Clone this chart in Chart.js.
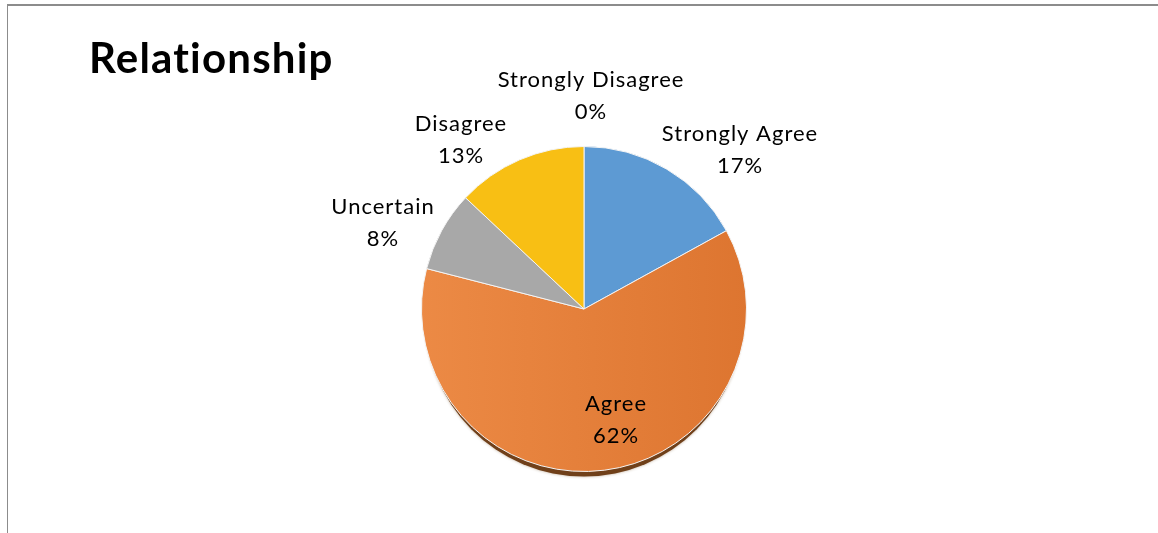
<!DOCTYPE html>
<html>
<head>
<meta charset="utf-8">
<script src="https://cdn.jsdelivr.net/npm/chart.js@4.4.1/dist/chart.umd.min.js"></script>
<style>
  html, body { margin: 0; padding: 0; background: #fff; }
  #wrap { position: relative; width: 1158px; height: 533px; overflow: hidden; }
  #frame { position: absolute; left: 7px; top: 4px; width: 1160px; height: 540px;
           border-left: 1px solid #8c8c8c; border-top: 2px solid #8c8c8c; box-sizing: border-box; }
  canvas { position: absolute; left: 0; top: 0; }
</style>
</head>
<body>
<div id="wrap">
  <div id="frame"></div>
  <canvas id="myChart" width="1158" height="533"></canvas>
</div>
<script>
// chart data
const chartTitle = 'Relationship';
const categories = ['Strongly Agree', 'Agree', 'Uncertain', 'Disagree', 'Strongly Disagree'];
const percents = [17, 62, 8, 13, 0];

// slice colours (Office palette)
const sliceColors = ['#5d9ad3', 'orange-gradient', '#a8a8a8', '#f8bf14', '#3f70b8'];

// label baseline of first line, relative to pie centre, in px
const labelOffsets = [
  [156, -168],
  [32, -0 + 102],
  [-201, -95],
  [-123, -178],
  [7, -222]
];

const FONT = 'Lato, "Open Sans", sans-serif';

// a soft brown shadow under the pie + the title and data labels
const piePlugin = {
  id: 'piePlugin',
  beforeDatasetsDraw(chart) {
    const arc = chart.getDatasetMeta(0).data[0];
    if (!arc) return;
    const ctx = chart.ctx;
    ctx.save();
    ctx.beginPath();
    ctx.ellipse(arc.x, arc.y + 6, arc.outerRadius - 3, arc.outerRadius - 1, 0, 0, Math.PI * 2);
    ctx.fillStyle = '#70401a';
    ctx.shadowColor = 'rgba(110,70,30,0.45)';
    ctx.shadowBlur = 3;
    ctx.fill();
    ctx.restore();
  },
  afterDraw(chart) {
    const ctx = chart.ctx;
    const arcs = chart.getDatasetMeta(0).data;
    ctx.save();
    ctx.fillStyle = '#000';
    ctx.textBaseline = 'alphabetic';

    ctx.font = 'bold 42px ' + FONT;
    ctx.letterSpacing = '1.2px';
    ctx.textAlign = 'left';
    ctx.fillText(chartTitle, 89, 73);

    ctx.font = '22px ' + FONT;
    ctx.letterSpacing = '1px';
    ctx.textAlign = 'center';
    const cx = arcs[0].x, cy = arcs[0].y;
    categories.forEach((name, i) => {
      const x = cx + labelOffsets[i][0];
      const y = cy + labelOffsets[i][1];
      ctx.fillText(name, x, y);
      ctx.fillText(percents[i] + '%', x, y + 32);
    });
    ctx.restore();
  }
};

const myChart = document.getElementById('myChart');

let pieChart = new Chart(myChart, {
  type: 'pie',
  data: {
    labels: categories,
    datasets: [{
      data: percents,
      backgroundColor: (c) => {
        const col = sliceColors[c.dataIndex];
        if (col !== 'orange-gradient') return col;
        const area = c.chart.chartArea;
        if (!area) return '#e67c33';
        const g = c.chart.ctx.createLinearGradient(418, 0, 750, 0);
        g.addColorStop(0, '#ec8a45');
        g.addColorStop(1, '#dd7530');
        return g;
      },
      borderColor: '#f4f4f4',
      borderWidth: 1
    }]
  },
  options: {
    responsive: false,
    animation: false,
    layout: { padding: { left: 10, right: 0, top: 146, bottom: 61 } },
    plugins: {
      legend: { display: false },
      tooltip: { enabled: false }
    }
  },
  plugins: [piePlugin]
});
</script>
</body>
</html>
